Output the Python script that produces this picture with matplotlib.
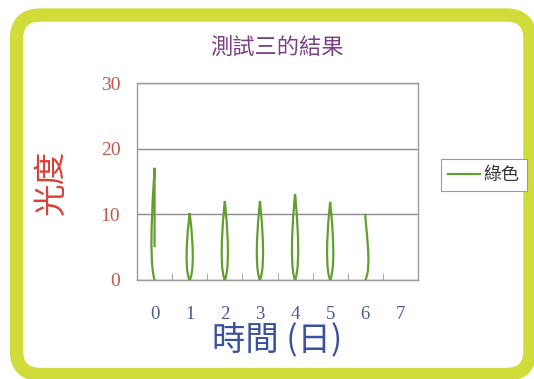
import numpy as np
import matplotlib
matplotlib.use("Agg")
import matplotlib.pyplot as plt
from matplotlib.path import Path
from matplotlib.patches import PathPatch, FancyBboxPatch
from matplotlib.lines import Line2D

# readings: day number and light level, in the order they were taken
days = [0, 0, 0, 1, 1, 1, 2, 2, 2, 3, 3, 3, 4, 4, 4, 5, 5, 5, 6, 6]
light = [5, 17, 0, 0, 10.2, 0, 0, 12, 0, 0, 12, 0, 0, 13.1, 0, 0, 11.9, 0, 0, 10.1]
day_ticks = [0, 1, 2, 3, 4, 5, 6, 7]
light_ticks = [0, 10, 20, 30]
series_name = "綠色"

GREEN = "#639e30"
CJK = ["Noto Sans CJK TC", "DejaVu Sans"]


def smooth_path(xs, ys):
    # smoothed line through the points (Catmull-Rom as cubic Bezier segments)
    pts = np.column_stack([xs, ys]).astype(float)
    n = len(pts)
    verts = [pts[0]]
    codes = [Path.MOVETO]
    for i in range(n - 1):
        p0 = pts[i - 1] if i > 0 else pts[i]
        p1 = pts[i]
        p2 = pts[i + 1]
        p3 = pts[i + 2] if i + 2 < n else pts[i + 1]
        verts += [p1 + (p2 - p0) / 5, p2 - (p3 - p1) / 5, p2]
        codes += [Path.CURVE4] * 3
    return Path(verts, codes)


fig = plt.figure(figsize=(5.34, 3.79), dpi=100)
fig.patch.set_facecolor("white")

# rounded yellow-green frame
frame = FancyBboxPatch((0.165, 0.045), 5.30 - 0.165, 3.64 - 0.045,
                       boxstyle="round,pad=0,rounding_size=0.24",
                       transform=fig.dpi_scale_trans, facecolor="none",
                       edgecolor="#cfdc3a", linewidth=9.6, zorder=0)
fig.patches.append(frame)

ax = fig.add_axes([137 / 534, 1 - 280 / 379, 281 / 534, 197 / 379])
ax.set_xlim(-0.5, 7.5)
ax.set_ylim(0, 30)

ax.add_patch(PathPatch(smooth_path(days, light), facecolor="none",
                       edgecolor=GREEN, linewidth=1.6, zorder=3))

for s in ax.spines.values():
    s.set_color("#9a9a9a")
    s.set_linewidth(1.0)

ax.set_yticks(light_ticks)
ax.set_yticklabels([str(v) for v in light_ticks])
ax.yaxis.grid(True, color="#8c8c8c", linewidth=1.0)
ax.set_axisbelow(True)
ax.tick_params(axis="y", length=0, pad=12, labelsize=14, labelcolor="#c4564c")
for t in ax.get_yticklabels():
    t.set_fontfamily("Liberation Serif")

ax.set_xticks(day_ticks)
ax.set_xticklabels([str(d) for d in day_ticks])
ax.set_xticks(np.arange(0.5, 7, 1.0), minor=True)
ax.tick_params(axis="x", which="major", length=0, pad=19, labelsize=13.5,
               labelcolor="#4a5a8c")
ax.tick_params(axis="x", which="minor", direction="in", length=5,
               color="#9a9a9a")
for t in ax.get_xticklabels():
    t.set_fontfamily("Liberation Serif")

fig.text(277 / 534, 1 - 47 / 379, "測試三的結果", ha="center", va="center",
         fontsize=16, color="#7a4282", family=CJK)
fig.text(52 / 534, 1 - 182 / 379, "光度", ha="center", va="center",
         rotation=90, fontsize=23.5, color="#d9413a", family=CJK)
fig.text(277 / 534, 1 - 340 / 379, "時間 (日)", ha="center", va="center",
         fontsize=24, color="#3a50a0", family=CJK)

handle = Line2D([], [], color=GREEN, linewidth=1.6)
leg = fig.legend([handle], [series_name], loc="center",
                 bbox_to_anchor=(484 / 534, 1 - 175 / 379),
                 prop={"family": CJK, "size": 13}, fancybox=False,
                 edgecolor="#9a9a9a", framealpha=1, handlelength=1.75,
                 handletextpad=0.2, borderpad=0.4, borderaxespad=0)
leg.get_frame().set_linewidth(0.8)
for t in leg.get_texts():
    t.set_color("#333333")

fig.savefig("out.png", dpi=100)
